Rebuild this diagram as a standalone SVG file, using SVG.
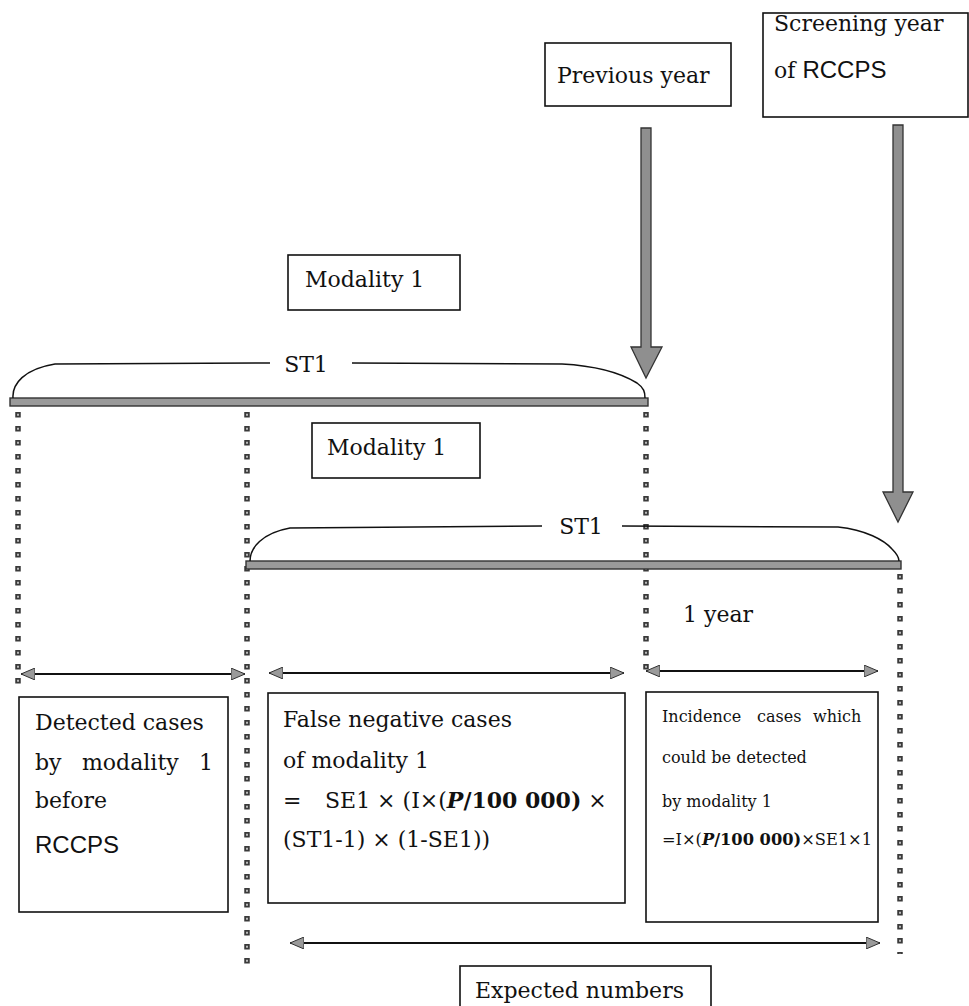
<svg xmlns="http://www.w3.org/2000/svg" width="969" height="1006" viewBox="0 0 969 1006">
<style>
.box{fill:#fff;stroke:#111;stroke-width:1.6}
.t{font-family:"DejaVu Serif","Liberation Serif",serif;font-size:22px;fill:#111}
.sm{font-size:16px}
.s{font-family:"Liberation Sans",Arial,sans-serif;font-size:24px;fill:#111}
.b{font-weight:bold}
.bi{font-weight:bold;font-style:italic}
.bar{fill:#9a9a9a;stroke:#333;stroke-width:1.4}
.brace{fill:none;stroke:#111;stroke-width:1.5}
.dots{stroke:#3a3a3a;stroke-width:5.5;stroke-dasharray:5.5 8.5}
.dotc{stroke:#bbb;stroke-width:2;stroke-dasharray:2 12;stroke-dashoffset:-1.75}
.thick{fill:#8f8f8f;stroke:#333;stroke-width:1.3}
.dbl{stroke:#111;stroke-width:1.8;fill:none;marker-start:url(#ah);marker-end:url(#ah)}
</style>
<defs>
<marker id="ah" viewBox="0 0 14 12" refX="14" refY="6" markerWidth="14" markerHeight="12" markerUnits="userSpaceOnUse" orient="auto-start-reverse">
<path d="M0,0 L14,6 L0,12 Z" fill="#9a9a9a" stroke="#333" stroke-width="1"/>
</marker>
</defs>

<g id="timeline">
<line class="dots" x1="18" y1="412" x2="18" y2="692"/>
<line class="dotc" x1="18" y1="412" x2="18" y2="692"/>
<line class="dots" x1="247" y1="412" x2="247" y2="966"/>
<line class="dotc" x1="247" y1="412" x2="247" y2="966"/>
<line class="dots" x1="646" y1="412" x2="646" y2="672"/>
<line class="dotc" x1="646" y1="412" x2="646" y2="672"/>
<line class="dots" x1="900" y1="574" x2="900" y2="954"/>
<line class="dotc" x1="900" y1="574" x2="900" y2="954"/>
<rect class="bar" x="10" y="398" width="638" height="8"/>
<rect class="bar" x="246" y="561" width="655" height="8"/>
<path class="brace" d="M13,398 C12,384 24,369 55,364 L270,363"/>
<path class="brace" d="M352,363 L562,364 C600,366 624,375 637,383 C644,388 645,392 645,398"/>
<text class="t" x="306" y="372" text-anchor="middle" font-size="24">ST1</text>
<path class="brace" d="M250,561 C250,548 262,533 290,528 L542,526"/>
<path class="brace" d="M622,526 L838,527 C866,530 884,540 892,549 C897,554 899,557 899,561"/>
<text class="t" x="581" y="534" text-anchor="middle" font-size="24">ST1</text>
<text class="t" x="683" y="622">1 year</text>
</g>

<g id="connectors">
<path class="thick" d="M641,128 L651,128 L651,347 L662,347 L646,378 L631,347 L641,347 Z"/>
<path class="thick" d="M893,125 L903,125 L903,492 L913,492 L898,522 L883,492 L893,492 Z"/>
<line class="dbl" x1="21" y1="674" x2="245" y2="674"/>
<line class="dbl" x1="269" y1="673" x2="624" y2="673"/>
<line class="dbl" x1="646" y1="671" x2="878" y2="671"/>
<line class="dbl" x1="290" y1="943" x2="880" y2="943"/>
</g>

<g id="previous-year">
<rect class="box" x="545" y="43" width="186" height="63"/>
<text class="t" x="557" y="83">Previous year</text>
</g>

<g id="screening-year">
<rect class="box" x="763" y="13" width="205" height="104"/>
<text class="t" x="774" y="31">Screening year</text>
<text x="774" y="78"><tspan class="t">of </tspan><tspan class="s">RCCPS</tspan></text>
</g>

<g id="modality-1a">
<rect class="box" x="288" y="255" width="172" height="55"/>
<text class="t" x="305" y="287">Modality 1</text>
</g>

<g id="modality-1b">
<rect class="box" x="312" y="423" width="168" height="55"/>
<text class="t" x="327" y="455">Modality 1</text>
</g>

<g id="detected">
<rect class="box" x="19" y="697" width="209" height="215"/>
<text class="t" x="35" y="730">Detected cases</text>
<text class="t" y="770"><tspan x="35">by</tspan><tspan x="82">modality</tspan><tspan x="199">1</tspan></text>
<text class="t" x="35" y="808">before</text>
<text class="s" x="35" y="853">RCCPS</text>
</g>

<g id="false-negative">
<rect class="box" x="268" y="693" width="357" height="210"/>
<text class="t" x="283" y="727">False negative cases</text>
<text class="t" x="283" y="768">of modality 1</text>
<text class="t" y="808"><tspan x="283">=</tspan><tspan x="325">SE1 × (I×(</tspan><tspan class="bi">P</tspan><tspan class="b">/100 000)</tspan> ×</text>
<text class="t" x="283" y="847">(ST1-1) × (1-SE1))</text>
</g>

<g id="incidence">
<rect class="box" x="646" y="692" width="232" height="230"/>
<text class="t sm" y="722"><tspan x="662">Incidence</tspan><tspan x="757">cases</tspan><tspan x="813">which</tspan></text>
<text class="t sm" x="662" y="763">could be detected</text>
<text class="t sm" x="662" y="807">by modality 1</text>
<text class="t sm" x="662" y="845" textLength="210" lengthAdjust="spacingAndGlyphs">=I×(<tspan class="bi">P</tspan><tspan class="b">/100 000)</tspan>×SE1×1</text>
</g>

<g id="expected">
<rect class="box" x="460" y="966" width="251" height="50"/>
<text class="t" x="475" y="998">Expected numbers</text>
</g>
</svg>
